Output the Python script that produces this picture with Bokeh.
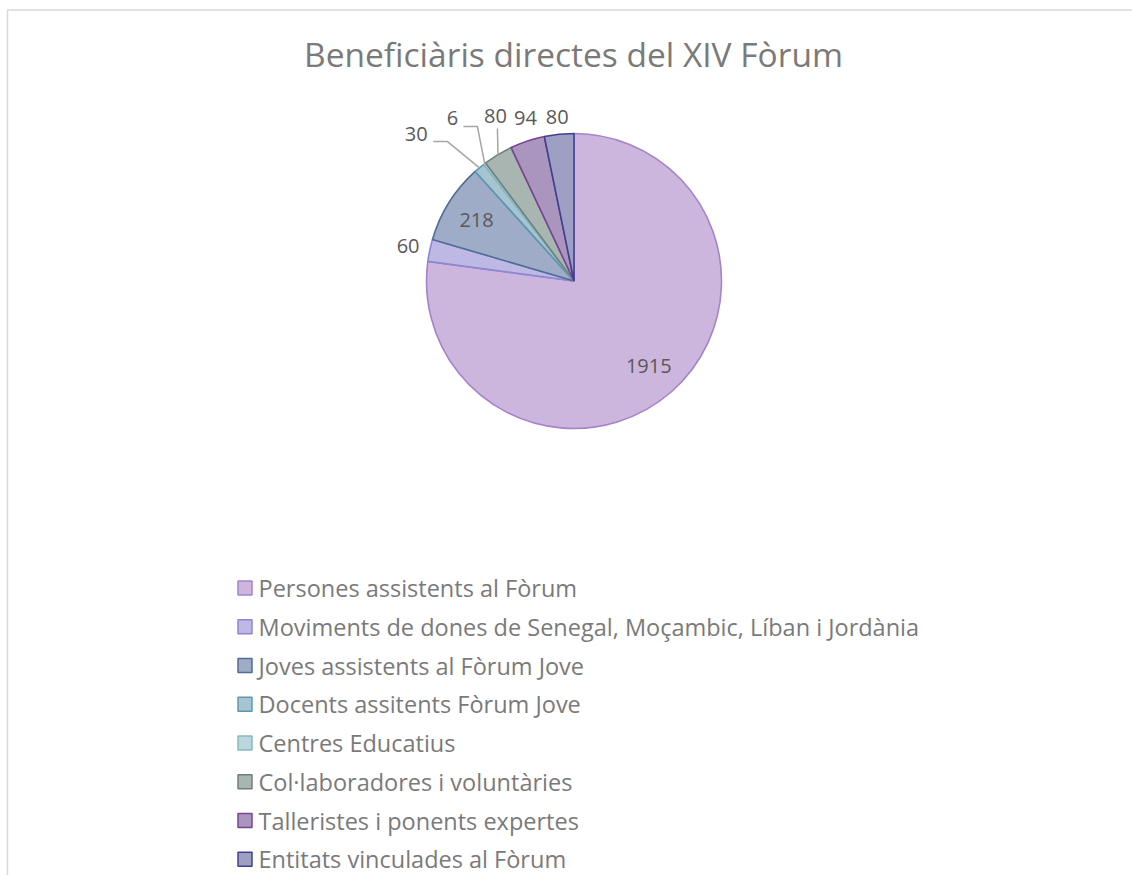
import math
from bokeh.plotting import figure
from bokeh.models import Range1d, ColumnDataSource
from bokeh.core.properties import value
from bokeh.embed import file_html
from bokeh.resources import INLINE

# ---------------- data ----------------
title_text = "Beneficiàris directes del XIV Fòrum"
categories = [
    "Persones assistents al Fòrum",
    "Moviments de dones de Senegal, Moçambic, Líban i Jordània",
    "Joves assistents al Fòrum Jove",
    "Docents assitents Fòrum Jove",
    "Centres Educatius",
    "Col·laboradores i voluntàries",
    "Talleristes i ponents expertes",
    "Entitats vinculades al Fòrum",
]
values = [1915, 60, 218, 30, 6, 80, 94, 80]

# ---------------- style ----------------
fill_colors = ["#cdb6de", "#bdb8e4", "#9facc8", "#a7c4d1", "#b9d7dd", "#a8b5b1", "#a995bd", "#9da0c3"]
line_colors = ["#a682c9", "#8d86d3", "#4f6d95", "#5e9aae", "#88b8c3", "#6f807c", "#7a4395", "#40408f"]
# label placement: (angle override in degrees clockwise from top or None, radius factor)
label_place = [(None, 0.77), (None, 1.15), (None, 0.78), (312.9, 1.46), (323.2, 1.376),
               (334.6, 1.242), (343.4, 1.15), (None, 1.12)]
# leader line offsets (px, relative to label centre)
leader_offsets = [None, None, None, [(31, 7), (17, 7)], [(25, 8), (11, 8)], [(2, 13)], None, None]

FONT = "Open Sans"
W, H = 1132, 875


def Y(py):
    return H - py


p = figure(width=W, height=H, x_range=Range1d(0, W), y_range=Range1d(0, H),
           output_backend="svg", toolbar_location=None, min_border=0,
           x_axis_type=None, y_axis_type=None)
p.outline_line_color = None
p.background_fill_color = "white"
p.border_fill_color = "white"
p.xgrid.visible = False
p.ygrid.visible = False

# chart border (left & top visible)
p.line(x=[7, 7, W], y=[0, Y(9.5), Y(9.5)], line_color="#d9d9d9", line_width=1.5)

# title
p.text(x=[573], y=[Y(53)], text=[title_text], text_font=value(FONT), text_font_size="33.5px",
       text_color="#7a7a7a", text_align="center", text_baseline="middle")

# pie
cx, cyp, R = 573.5, 280.5, 147.5
cy = Y(cyp)
total = float(sum(values))
starts, ends, mids = [], [], []
c = 0.0
for v in values:
    a0 = c / total * 2 * math.pi
    c += v
    a1 = c / total * 2 * math.pi
    starts.append(math.pi / 2 - a0)
    ends.append(math.pi / 2 - a1)
    mids.append((a0 + a1) / 2)  # clockwise from top

src = ColumnDataSource(dict(start=starts, end=ends, fill=fill_colors, line=line_colors))
p.wedge(x=cx, y=cy, radius=R, start_angle="start", end_angle="end", direction="clock",
        fill_color="fill", line_color="line", line_width=1.6, source=src)

# data labels + leaders
lx, ly, lt = [], [], []
for i, v in enumerate(values):
    ang, rf = label_place[i]
    a = math.radians(ang) if ang is not None else mids[i]
    px = cx + rf * R * math.sin(a)
    py = cyp - rf * R * math.cos(a)
    lx.append(px)
    ly.append(Y(py))
    lt.append(str(v))
    if leader_offsets[i]:
        ax = cx + R * math.sin(mids[i])
        ay = cyp - R * math.cos(mids[i])
        xs = [ax] + [px + dx for dx, dy in leader_offsets[i]]
        ys = [Y(ay)] + [Y(py + dy) for dx, dy in leader_offsets[i]]
        p.line(x=xs, y=ys, line_color="#a6a6a6", line_width=1.5)

p.text(x=lx, y=ly, text=lt, text_font=value(FONT), text_font_size="20px",
       text_color="#595959", text_align="center", text_baseline="middle")

# legend
leg_y0, leg_dy = 587.5, 38.75
sq_x, sq = 244.5, 14
leg_ys = [Y(leg_y0 + i * leg_dy) for i in range(len(categories))]
p.rect(x=[sq_x] * len(categories), y=leg_ys, width=sq, height=sq,
       fill_color=fill_colors, line_color=line_colors, line_width=1.5)
p.text(x=[258] * len(categories), y=leg_ys, text=categories, text_font=value(FONT),
       text_font_size="23.5px", text_color="#7a7a7a", text_align="left", text_baseline="middle")

open("out.html", "w").write(file_html(p, INLINE))
